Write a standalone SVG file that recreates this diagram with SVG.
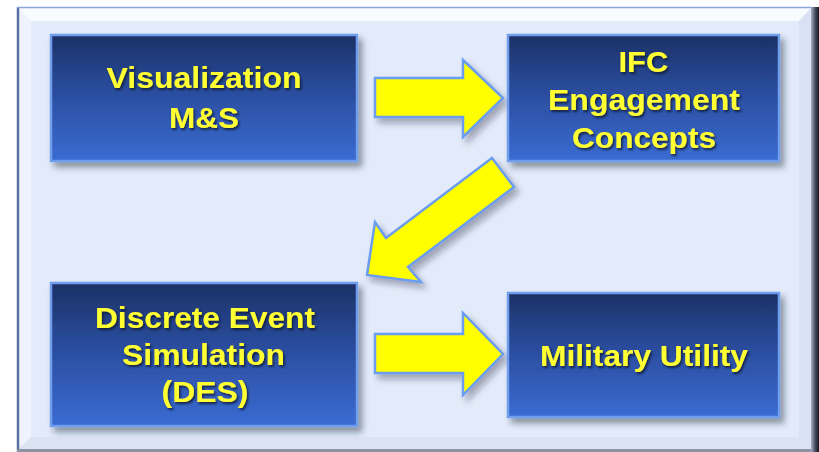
<svg xmlns="http://www.w3.org/2000/svg" width="819" height="452" viewBox="0 0 819 452">
  <defs>
    <linearGradient id="boxFill" x1="0" y1="0" x2="0" y2="1">
      <stop offset="0" stop-color="#1C3166"/>
      <stop offset="0.45" stop-color="#2A4D9E"/>
      <stop offset="1" stop-color="#3A6BD2"/>
    </linearGradient>
    <linearGradient id="rightBar" x1="0" y1="0" x2="1" y2="0">
      <stop offset="0" stop-color="#A9B2C4"/>
      <stop offset="0.5" stop-color="#4A5063"/>
      <stop offset="1" stop-color="#15181F"/>
    </linearGradient>
    <filter id="boxShadow" x="-10%" y="-10%" width="125%" height="130%">
      <feDropShadow dx="4" dy="5" stdDeviation="3" flood-color="#1A2030" flood-opacity="0.45"/>
    </filter>
    <filter id="arrowShadow" x="-15%" y="-15%" width="135%" height="140%">
      <feDropShadow dx="4" dy="5" stdDeviation="3" flood-color="#1A2030" flood-opacity="0.35"/>
    </filter>
    <filter id="textShadow" x="-5%" y="-20%" width="115%" height="150%">
      <feDropShadow dx="1.5" dy="2" stdDeviation="1" flood-color="#0A1230" flood-opacity="0.85"/>
    </filter>
  </defs>
  <style>
    .box { fill: url(#boxFill); stroke: #6F9EEC; stroke-width: 2.5; filter: url(#boxShadow); }
    .label { font-family: "Liberation Sans", Arial, sans-serif; font-weight: bold; font-size: 30px; fill: #FFFF33; text-anchor: middle; filter: url(#textShadow); }
    .arrow { fill: #FFFF00; stroke: #6A9CF0; stroke-width: 2.5; stroke-linejoin: miter; filter: url(#arrowShadow); }
  </style>

  <!-- background and bevelled panel -->
  <rect x="0" y="0" width="819" height="452" fill="#FFFFFF"/>
  <g id="panel">
    <rect x="17" y="7" width="798" height="445" fill="#E3EBFA"/>
    <polygon points="17,7 812,7 799,21 31,21" fill="#F8FBFF"/>
    <polygon points="17,7 31,21 31,437 17,452" fill="#EEF3FD"/>
    <polygon points="812,7 812,450 799,437 799,21" fill="#D9E2F4"/>
    <polygon points="17,450 812,450 799,437 31,437" fill="#DCE4F4"/>
    <line x1="18" y1="7" x2="18" y2="452" stroke="#5C6FA3" stroke-width="2.5"/>
    <line x1="17" y1="7.5" x2="812" y2="7.5" stroke="#8DA6DA" stroke-width="1.5"/>
    <line x1="17" y1="450.5" x2="815" y2="450.5" stroke="#8C93A3" stroke-width="3"/>
    <rect x="811" y="7" width="8" height="445" fill="url(#rightBar)"/>
  </g>

  <!-- connectors -->
  <g id="connectors">
    <polygon class="arrow" points="375,78 463,78 463,60 503,98 463,137 463,117 375,117"/>
    <polygon class="arrow" points="492,158 514,187 408,267 421,282 367,275 375,222 386,238"/>
    <polygon class="arrow" points="375,334 463,334 463,313 503,354 463,395 463,373 375,373"/>
  </g>

  <!-- nodes -->
  <g id="node-visualization">
    <rect class="box" x="51" y="35" width="306" height="126"/>
    <text class="label" x="204" y="88" textLength="195" lengthAdjust="spacingAndGlyphs">Visualization</text>
    <text class="label" x="204" y="128" textLength="70" lengthAdjust="spacingAndGlyphs">M&amp;S</text>
  </g>

  <g id="node-ifc">
    <rect class="box" x="508" y="35" width="271" height="126"/>
    <text class="label" x="643.5" y="72" textLength="50" lengthAdjust="spacingAndGlyphs">IFC</text>
    <text class="label" x="644" y="110" textLength="192" lengthAdjust="spacingAndGlyphs">Engagement</text>
    <text class="label" x="644" y="148" textLength="144" lengthAdjust="spacingAndGlyphs">Concepts</text>
  </g>

  <g id="node-des">
    <rect class="box" x="51" y="283" width="306" height="143"/>
    <text class="label" x="205" y="328" textLength="220" lengthAdjust="spacingAndGlyphs">Discrete Event</text>
    <text class="label" x="203.5" y="365" textLength="163" lengthAdjust="spacingAndGlyphs">Simulation</text>
    <text class="label" x="205" y="402" textLength="87" lengthAdjust="spacingAndGlyphs">(DES)</text>
  </g>

  <g id="node-utility">
    <rect class="box" x="508" y="293" width="271" height="124"/>
    <text class="label" x="644" y="366" textLength="208" lengthAdjust="spacingAndGlyphs">Military Utility</text>
  </g>
</svg>
